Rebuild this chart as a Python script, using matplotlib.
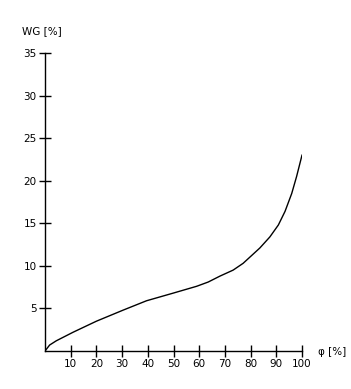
import numpy as np
import matplotlib
matplotlib.use("Agg")
import matplotlib.pyplot as plt

# curve (relative humidity vs water content)
phi = [0, 1.8, 4.4, 10.9, 20, 30.4, 39.5, 49.9, 59, 63.5, 68.1, 73.2, 77.1, 83.6, 87.5, 90.8, 93.4, 96.0, 97.9, 100]
wg = [0, 0.7, 1.2, 2.2, 3.5, 4.8, 5.9, 6.8, 7.6, 8.1, 8.8, 9.5, 10.3, 12.1, 13.4, 14.8, 16.4, 18.5, 20.5, 23.0]
xticks = [10, 20, 30, 40, 50, 60, 70, 80, 90, 100]
yticks = [5, 10, 15, 20, 25, 30, 35]

W, H = 351, 389
fig = plt.figure(figsize=(W / 100, H / 100), dpi=100)
ax = fig.add_axes([45 / W, (H - 351) / H, (302 - 45) / W, (351 - 53) / H])

ax.plot(phi, wg, color="black", lw=1.0)
ax.set_xlim(0, 100)
ax.set_ylim(0, 35)
ax.set_xticks(xticks)
ax.set_yticks(yticks)
for s in ["top", "right"]:
    ax.spines[s].set_visible(False)
for s in ["left", "bottom"]:
    ax.spines[s].set_linewidth(1)
ax.tick_params(direction="inout", length=8, width=1, labelsize=7.5, pad=2)

fig.text(22 / W, 1 - 31 / H, "WG [%]", fontsize=7.5, va="center", ha="left")
fig.text(318 / W, 1 - 352 / H, "φ [%]", fontsize=7.5, va="center", ha="left")

fig.savefig("out.png", dpi=100)
